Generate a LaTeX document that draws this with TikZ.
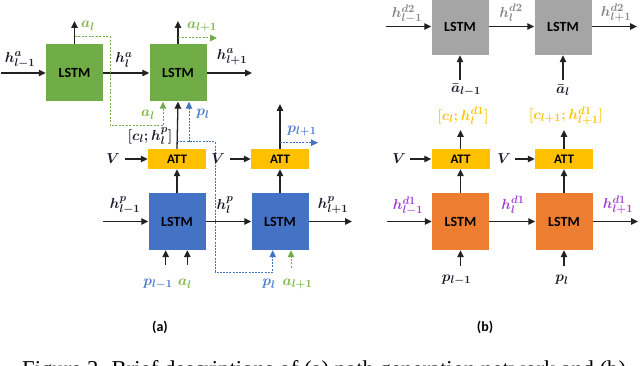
\documentclass[tikz,border=0pt]{standalone}
\usepackage{fontspec}
\setmainfont{Liberation Serif}
\newfontfamily\calib{Carlito}
\usetikzlibrary{arrows.meta}
\definecolor{cgreen}{HTML}{70AD47}
\definecolor{cblue}{HTML}{4472C4}
\definecolor{corange}{HTML}{ED7D31}
\definecolor{cgray}{HTML}{A5A5A5}
\definecolor{cyel}{HTML}{FFC000}
\definecolor{lgreen}{HTML}{7DB544}
\definecolor{lblue}{HTML}{4A78CC}
\definecolor{lpurple}{HTML}{A43CD8}
\definecolor{lgray}{HTML}{858585}
\definecolor{dark}{HTML}{1A1A2A}
\definecolor{lineclr}{HTML}{222222}
\begin{document}
\begin{tikzpicture}[x=1pt,y=-1pt,
  lstm/.style={minimum width=57pt, minimum height=57pt, inner sep=0pt, font=\calib\bfseries\fontsize{14}{14}\selectfont, text=black},
  att/.style={fill=cyel, minimum width=58pt, minimum height=20pt, inner sep=0pt, font=\calib\bfseries\fontsize{13}{13}\selectfont, text=black},
  lab/.style={inner sep=0pt, font=\fontsize{15.5}{15.5}\selectfont\boldmath, text=dark},
  sub/.style={inner sep=0pt, font=\calib\bfseries\fontsize{14}{14}\selectfont, text=black},
  arr/.style={draw=lineclr, line width=1.3pt, -{Triangle[length=7pt,width=6.5pt]}},
  gd/.style={draw=cgreen, line width=1pt, dash pattern=on 2pt off 1.5pt},
  gda/.style={gd, -{Triangle[length=7pt,width=6.5pt]}},
  bd/.style={draw=cblue, line width=1pt, dash pattern=on 2pt off 1.2pt},
  bda/.style={bd, -{Triangle[length=7pt,width=6.5pt]}}
]
\useasboundingbox (0,0) rectangle (640,366);

% ---------- (a) boxes ----------
\node[lstm, fill=cgreen] (G1) at (74.5,73) {LSTM};
\node[lstm, fill=cgreen] (G2) at (178,73) {LSTM};
\node[att] (A1) at (177,159) {ATT};
\node[att] (A2) at (280,159) {ATT};
\node[lstm, fill=cblue] (P1) at (177,221.5) {LSTM};
\node[lstm, fill=cblue] (P2) at (280,221.5) {LSTM};

% ---------- (a) coordinates ----------
\coordinate (ga0) at (1,73);
\coordinate (ga3) at (252,73);
\coordinate (gu1) at (74.5,21);
\coordinate (gu2) at (178,21);
\coordinate (gj1) at (74.5,37);
\coordinate (gk1) at (110,37);
\coordinate (gk2) at (110,126);
\coordinate (gk3) at (163,126);
\coordinate (gj2) at (178,38);
\coordinate (gk4) at (217,38);
\coordinate (bj1) at (177,142);
\coordinate (bk1) at (215,142);
\coordinate (bk2) at (215,272);
\coordinate (bk3) at (272.7,272);
\coordinate (bb) at (189,142);
\coordinate (au2) at (280,104);
\coordinate (bj2) at (280,142.7);
\coordinate (bk5) at (318,142.7);
\coordinate (pa0) at (103,221.5);
\coordinate (pa3) at (352,221.5);
\coordinate (pi1) at (165.7,265);
\coordinate (pi2) at (187.3,265);
\coordinate (pi4) at (291,268);

% ---------- (a) connectors ----------
\draw[arr] (ga0) -- (G1.west);
\draw[arr] (G1.east) -- (G2.west);
\draw[arr] (G2.east) -- (ga3);
\draw[arr] (G1.north) -- (gu1);
\draw[arr] (G2.north) -- (gu2);
\draw[gda] (gj1) -- (gk1) -- (gk2) -- (gk3) -- (G2.south -| gk3);
\draw[gda] (gj2) -- (gk4);
\draw[arr] (A1.north) -- (G2.south);
\draw[bda] (bj1) -- (bk1) -- (bk2) -- (bk3) -- (P2.south -| bk3);
\draw[bda] (bb) -- (G2.south -| bb);
\draw[arr] (A2.north) -- (au2);
\draw[bda] (bj2) -- (bk5);
\draw[arr] (P1.north) -- (A1.south);
\draw[arr] (P2.north) -- (A2.south);
\draw[arr] (pa0) -- (P1.west);
\draw[arr] (P1.east) -- (P2.west);
\draw[arr] (P2.east) -- (pa3);
\draw[arr] (pi1) -- (P1.south -| pi1);
\draw[arr] (pi2) -- (P1.south -| pi2);
\draw[gda] (pi4) -- (P2.south -| pi4);

% ---------- (a) labels ----------
\node[lab] (ha0) at (20,60) {$h^{a}_{l-1}$};
\node[lab] (ha1) at (124,60) {$h^{a}_{l}$};
\node[lab] (ha2) at (232,57) {$h^{a}_{l+1}$};
\node[lab, text=lgreen] (al1) at (88,26) {$a_{l}$};
\node[lab, text=lgreen] (al2) at (202,27) {$a_{l+1}$};
\node[lab, text=lgreen] (al3) at (148,115) {$a_{l}$};
\node[lab, text=lblue] (pl1) at (203,114) {$p_{l}$};
\node[lab] (cl) at (150,136) {$[c_{l};h^{p}_{l}]$};
\node[lab, text=lblue] (pl2) at (302,131) {$p_{l+1}$};
\node[lab] (V1) at (113,159) {$V$};
\node[lab] (V2) at (218,159) {$V$};
\draw[arr] ([xshift=5pt]V1.east) -- (A1.west);
\draw[arr] ([xshift=5pt]V2.east) -- (A2.west);
\node[lab] (hp0) at (125,205) {$h^{p}_{l-1}$};
\node[lab] (hp1) at (225,205) {$h^{p}_{l}$};
\node[lab] (hp2) at (333,205) {$h^{p}_{l+1}$};
\node[lab, text=lblue] (pl3) at (158,284) {$p_{l-1}$};
\node[lab, text=lgreen] (al4) at (185,284) {$a_{l}$};
\node[lab, text=lblue] (pl4) at (269,284) {$p_{l}$};
\node[lab, text=lgreen] (al5) at (297.5,284) {$a_{l+1}$};
\node[sub] (sa) at (160,327) {(a)};

% ---------- (b) boxes ----------
\node[lstm, fill=cgray] (D1) at (460,26.5) {LSTM};
\node[lstm, fill=cgray] (D2) at (563,26.5) {LSTM};
\node[att] (B1) at (460.5,159) {ATT};
\node[att] (B2) at (564,159) {ATT};
\node[lstm, fill=corange] (O1) at (460.5,221.5) {LSTM};
\node[lstm, fill=corange] (O2) at (564,221.5) {LSTM};

% ---------- (b) coordinates ----------
\coordinate (da0) at (386,26.5);
\coordinate (da3) at (637,26.5);
\coordinate (du1) at (460,80);
\coordinate (du2) at (563,80);
\coordinate (ub1) at (460.5,130);
\coordinate (ub2) at (564,130);
\coordinate (oa0) at (387,221.5);
\coordinate (oa3) at (638,221.5);
\coordinate (oi1) at (460.5,266);
\coordinate (oi2) at (564,266);

% ---------- (b) connectors ----------
\draw[arr] (da0) -- (D1.west);
\draw[arr] (D1.east) -- (D2.west);
\draw[arr] (D2.east) -- (da3);
\draw[arr] (du1) -- (D1.south -| du1);
\draw[arr] (du2) -- (D2.south -| du2);
\draw[arr] (B1.north) -- (ub1);
\draw[arr] (B2.north) -- (ub2);
\draw[arr] (O1.north) -- (B1.south);
\draw[arr] (O2.north) -- (B2.south);
\draw[arr] (oa0) -- (O1.west);
\draw[arr] (O1.east) -- (O2.west);
\draw[arr] (O2.east) -- (oa3);
\draw[arr] (oi1) -- (O1.south);
\draw[arr] (oi2) -- (O2.south);

% ---------- (b) labels ----------
\node[lab, text=lgray] (hd0) at (407,14) {$h^{d2}_{l-1}$};
\node[lab, text=lgray] (hd1) at (511,13) {$h^{d2}_{l}$};
\node[lab, text=lgray] (hd2) at (616,13) {$h^{d2}_{l+1}$};
\node[lab] (ab1) at (466,90) {$\bar{a}_{l-1}$};
\node[lab] (ab2) at (563,90) {$\bar{a}_{l}$};
\node[lab, text=cyel] (cb1) at (463,116) {$[c_{l};h^{d1}_{l}]$};
\node[lab, text=cyel] (cb2) at (566,116) {$[c_{l+1};h^{d1}_{l+1}]$};
\node[lab] (V3) at (399,159) {$V$};
\node[lab] (V4) at (504,159) {$V$};
\draw[arr] ([xshift=4pt]V3.east) -- (B1.west);
\draw[arr] ([xshift=4pt]V4.east) -- (B2.west);
\node[lab, text=lpurple] (hq0) at (408,206) {$h^{d1}_{l-1}$};
\node[lab, text=lpurple] (hq1) at (513,205) {$h^{d1}_{l}$};
\node[lab, text=lpurple] (hq2) at (618,205) {$h^{d1}_{l+1}$};
\node[lab] (pb1) at (456.5,280) {$p_{l-1}$};
\node[lab] (pb2) at (562,280) {$p_{l}$};
\node[sub] (sb) at (485,327) {(b)};

% ---------- caption (cut by the frame) ----------
\node[anchor=base west, inner sep=0pt, font=\fontsize{22.7}{24}\selectfont] (cap) at (22,376) {Figure 3. Brief descriptions of (a) path generation network and (b)};
\end{tikzpicture}
\end{document}
